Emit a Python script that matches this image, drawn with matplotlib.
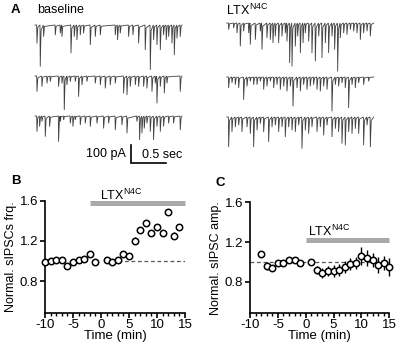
import numpy as np
import matplotlib
matplotlib.use("Agg")
import matplotlib.pyplot as plt
from matplotlib.ticker import MultipleLocator

plt.rcParams["font.family"] = ["Liberation Sans", "DejaVu Sans"]
plt.rcParams["axes.unicode_minus"] = False
plt.rcParams["mathtext.fontset"] = "custom"
plt.rcParams["mathtext.rm"] = "Liberation Sans"

# ================= DATA =================
# panel A: sIPSC events per sweep, time (s) from sweep start and amplitude (pA)
BASE1_T = [0.024, 0.071, 0.119, 0.286, 0.357, 0.381, 0.510, 0.557, 0.595, 0.643, 0.690, 0.786, 0.857, 0.929,
           1.143, 1.176, 1.214, 1.333, 1.395, 1.476, 1.571, 1.643, 1.690, 1.738, 1.786, 1.833, 1.871, 1.905,
           1.952, 1.986, 2.024, 2.071]
BASE1_A = [102, 231, 65, 56, 46, 65, 157, 65, 83, 56, 46, 111, 65, 56,
           56, 83, 46, 65, 56, 102, 139, 250, 83, 111, 139, 56, 83, 65,
           102, 167, 74, 65]
BASE2_T = [0.024, 0.095, 0.167, 0.214, 0.333, 0.381, 0.414, 0.452, 0.500, 0.571, 0.619, 0.667, 0.738, 0.857,
           0.929, 1.000, 1.071, 1.143, 1.262, 1.310, 1.357, 1.429, 1.476, 1.548, 1.595, 1.667, 1.714, 1.738,
           1.786, 1.843, 1.881, 2.071]
BASE2_A = [87, 59, 41, 31, 59, 41, 189, 50, 31, 31, 115, 50, 31, 41,
           50, 69, 50, 41, 96, 106, 59, 50, 59, 59, 69, 87, 41, 152,
           59, 96, 41, 87]
BASE3_T = [0.024, 0.062, 0.095, 0.143, 0.205, 0.333, 0.357, 0.405, 0.500, 0.538, 0.571, 0.643, 0.714, 0.786,
           0.881, 0.976, 1.048, 1.143, 1.238, 1.310, 1.452, 1.490, 1.524, 1.557, 1.595, 1.643, 1.690, 1.738,
           1.786, 1.833, 1.905, 1.976, 2.071]
BASE3_A = [87, 59, 31, 115, 59, 143, 31, 22, 41, 59, 22, 50, 41, 59,
           41, 69, 41, 78, 50, 96, 31, 133, 96, 69, 41, 87, 133, 59,
           87, 59, 41, 41, 78]

LTX1_T = [0.024, 0.095, 0.143, 0.190, 0.238, 0.310, 0.333, 0.405, 0.476, 0.500, 0.571, 0.619, 0.657, 0.690,
          0.738, 0.786, 0.833, 0.857, 0.895, 0.929, 0.976, 1.010, 1.048, 1.086, 1.119, 1.167, 1.214, 1.262,
          1.310, 1.357, 1.405, 1.452, 1.500, 1.538, 1.581, 1.619, 1.667, 1.714, 1.762, 1.810, 1.857, 1.905,
          1.952, 2.000, 2.048]
LTX1_A = [37, 28, 56, 130, 46, 56, 120, 93, 46, 148, 83, 93, 111, 74,
          111, 74, 56, 102, 222, 241, 130, 74, 167, 111, 56, 102, 167, 213,
          74, 194, 111, 167, 74, 148, 269, 83, 56, 65, 37, 46, 56, 93,
          56, 46, 74]
LTX2_T = [0.024, 0.071, 0.119, 0.167, 0.238, 0.286, 0.333, 0.381, 0.429, 0.476, 0.524, 0.571, 0.619, 0.667,
          0.714, 0.762, 0.810, 0.857, 0.905, 0.943, 1.000, 1.048, 1.095, 1.143, 1.190, 1.238, 1.286, 1.333,
          1.381, 1.429, 1.500, 1.548, 1.595, 1.643, 1.690, 1.738, 1.786, 1.833, 1.881, 1.952, 2.024]
LTX2_A = [61, 33, 43, 61, 126, 52, 24, 43, 43, 24, 70, 52, 24, 61,
          43, 70, 52, 80, 52, 163, 61, 80, 43, 70, 52, 43, 70, 80,
          52, 70, 191, 43, 52, 33, 61, 172, 43, 61, 33, 43, 24]
LTX3_T = [0.024, 0.071, 0.119, 0.167, 0.214, 0.286, 0.333, 0.381, 0.429, 0.476, 0.524, 0.595, 0.643, 0.690,
          0.738, 0.786, 0.833, 0.881, 0.929, 0.976, 1.024, 1.071, 1.119, 1.167, 1.214, 1.286, 1.333, 1.381,
          1.429, 1.500, 1.548, 1.595, 1.643, 1.690, 1.738, 1.786, 1.833, 1.881, 1.952, 2.000, 2.048]
LTX3_A = [167, 83, 56, 46, 83, 56, 93, 167, 74, 37, 83, 139, 56, 46,
          83, 56, 111, 56, 74, 83, 46, 176, 74, 93, 56, 83, 56, 102,
          46, 111, 65, 83, 148, 157, 83, 93, 65, 93, 157, 46, 167]

SWEEP_DUR = 2.1  # s

# panel B: normalised sIPSC frequency
FRQ_TIME = [-10, -9, -8, -7, -6, -5, -4, -3, -2, -1, 1, 2, 3, 4, 5, 6, 7, 8, 9, 10, 11, 12, 13, 14]
FRQ_MEAN = [0.995, 1.0, 1.01, 1.01, 0.956, 0.99, 1.008, 1.02, 1.073, 0.995, 1.01, 0.99,
            1.015, 1.07, 1.05, 1.204, 1.31, 1.38, 1.28, 1.337, 1.28, 1.49, 1.25, 1.34]
FRQ_SEM = [0.015, 0.015, 0.015, 0.02, 0.02, 0.015, 0.015, 0.015, 0.015, 0.01, 0.015, 0.015,
           0.015, 0.015, 0.03, 0.035, 0.02, 0.02, 0.02, 0.02, 0.02, 0.015, 0.035, 0.03]

# panel C: normalised sIPSC amplitude
AMP_TIME = [-8, -7, -6, -5, -4, -3, -2, -1, 1, 2, 3, 4, 5, 6, 7, 8, 9, 10, 11, 12, 13, 14, 15]
AMP_MEAN = [1.08, 0.957, 0.94, 0.99, 0.99, 1.02, 1.015, 0.99, 1.0, 0.92, 0.89, 0.904,
            0.904, 0.92, 0.95, 0.98, 0.99, 1.06, 1.04, 1.02, 0.967, 0.99, 0.946]
AMP_SEM = [0.01, 0.04, 0.03, 0.03, 0.02, 0.02, 0.02, 0.015, 0.03, 0.04, 0.05, 0.05,
           0.06, 0.06, 0.06, 0.06, 0.06, 0.09, 0.08, 0.07, 0.08, 0.07, 0.09]

# drug application windows (min)
LTX_B = (-2, 15)
LTX_C = (0, 15)

# ================= SETTINGS =================
W, H = 397, 348
TRACE_COLOR = "#404040"
BAR_GRAY = "#aaaaaa"
LTX_LABEL = r"LTX$^{\mathregular{N4C}}$"
TICK_FS = 9.5
LABEL_FS = 9

def fx(px):
    return px / W

def fy(py):
    return 1 - py / H

def sweep_xy(times, amps, dur):
    xs, ys = [0.0], [0.0]
    for t, a in zip(times, amps):
        xs += [t, t + 0.004, t + 0.016]
        ys += [0.0, -a, -0.12 * a]
    xs.append(dur)
    ys.append(0.0)
    return np.array(xs), np.array(ys)

def style_axes(ax):
    for s in ["top", "right"]:
        ax.spines[s].set_visible(False)
    for s in ["left", "bottom"]:
        ax.spines[s].set_linewidth(1.2)
    ax.tick_params(direction="out", length=3.5, width=1.2, labelsize=TICK_FS, pad=1.5)
    ax.tick_params(axis="x", pad=0.5)
    ax.tick_params(axis="x", which="minor", direction="out", length=2, width=1.0)

def time_course(ax, t, m, e, ylabel, dash_from):
    ax.plot([dash_from, 15], [1, 1], ls=(0, (3, 2.2)), color="#555555", lw=0.9, zorder=1)
    ax.errorbar(t, m, yerr=e, fmt="o", ms=4.6, mfc="white", mec="black", mew=1.1,
                ecolor="black", elinewidth=1.0, capsize=0, zorder=3, clip_on=False)
    ax.set_xlim(-10, 15)
    ax.set_ylim(0.485, 1.6)
    ax.set_xticks([-10, -5, 0, 5, 10, 15])
    ax.xaxis.set_minor_locator(MultipleLocator(1))
    ax.set_yticks([0.8, 1.2, 1.6])
    ax.set_xlabel("Time (min)", fontsize=TICK_FS, labelpad=-0.5)
    ax.set_ylabel(ylabel, fontsize=LABEL_FS, labelpad=2)
    style_axes(ax)

fig = plt.figure(figsize=(W / 100, H / 100), dpi=100)

# ---- A: traces ----
axA = fig.add_axes([0, fy(165), 1, 165 / H])
axA.set_xlim(0, W / 70.0)          # 70 px per second
axA.set_ylim(-165 / 0.18, 0)       # 0.18 px per pA
axA.axis("off")

left_t0, right_t0 = 35 / 70.0, 226.7 / 70.0
sweeps = [
    (BASE1_T, BASE1_A, left_t0, -25 / 0.18), (BASE2_T, BASE2_A, left_t0, -76 / 0.18),
    (BASE3_T, BASE3_A, left_t0, -116 / 0.18),
    (LTX1_T, LTX1_A, right_t0, -23 / 0.18), (LTX2_T, LTX2_A, right_t0, -77 / 0.18),
    (LTX3_T, LTX3_A, right_t0, -117 / 0.18),
]
for tt, aa, t0, y0 in sweeps:
    x, y = sweep_xy(tt, aa, SWEEP_DUR)
    axA.plot(x + t0, y + y0, color=TRACE_COLOR, lw=0.6, solid_joinstyle="miter")

# scale bar: 100 pA, 0.5 s
sb_x, sb_y = 131 / 70.0, -163 / 0.18
axA.plot([sb_x, sb_x, sb_x + 0.5], [sb_y + 100, sb_y, sb_y], color="black", lw=1.2,
         solid_joinstyle="miter")
fig.text(fx(126), fy(154), "100 pA", ha="right", va="center", fontsize=9)
fig.text(fx(142), fy(155), "0.5 sec", ha="left", va="center", fontsize=9)

fig.text(fx(11), fy(10), "A", ha="left", va="center", fontsize=9.5, fontweight="bold")
fig.text(fx(37), fy(10), "baseline", ha="left", va="center", fontsize=9)
fig.text(fx(226), fy(10), LTX_LABEL, ha="left", va="center", fontsize=9)

# ---- B: frequency ----
axB = fig.add_axes([fx(45), fy(313), fx(140), (313 - 200.7) / H])
time_course(axB, FRQ_TIME, FRQ_MEAN, FRQ_SEM, "Normal. sIPSCs frq.", 3)
axB.plot(LTX_B, [1.575, 1.575], color=BAR_GRAY, lw=3.6, solid_capstyle="butt", clip_on=False)
axB.text(3.6, 1.655, LTX_LABEL, ha="center", va="center", fontsize=9, clip_on=False)
fig.text(fx(11), fy(181), "B", ha="left", va="center", fontsize=9.5, fontweight="bold")

# ---- C: amplitude ----
axC = fig.add_axes([fx(250), fy(313), fx(139.3), (313 - 202.3) / H])
time_course(axC, AMP_TIME, AMP_MEAN, AMP_SEM, "Normal. sIPSC amp.", -10)
axC.plot(LTX_C, [1.22, 1.22], color=BAR_GRAY, lw=3.6, solid_capstyle="butt", clip_on=False)
axC.text(4.2, 1.31, LTX_LABEL, ha="center", va="center", fontsize=9)
fig.text(fx(215), fy(183), "C", ha="left", va="center", fontsize=9.5, fontweight="bold")

fig.savefig("out.png", dpi=100)
